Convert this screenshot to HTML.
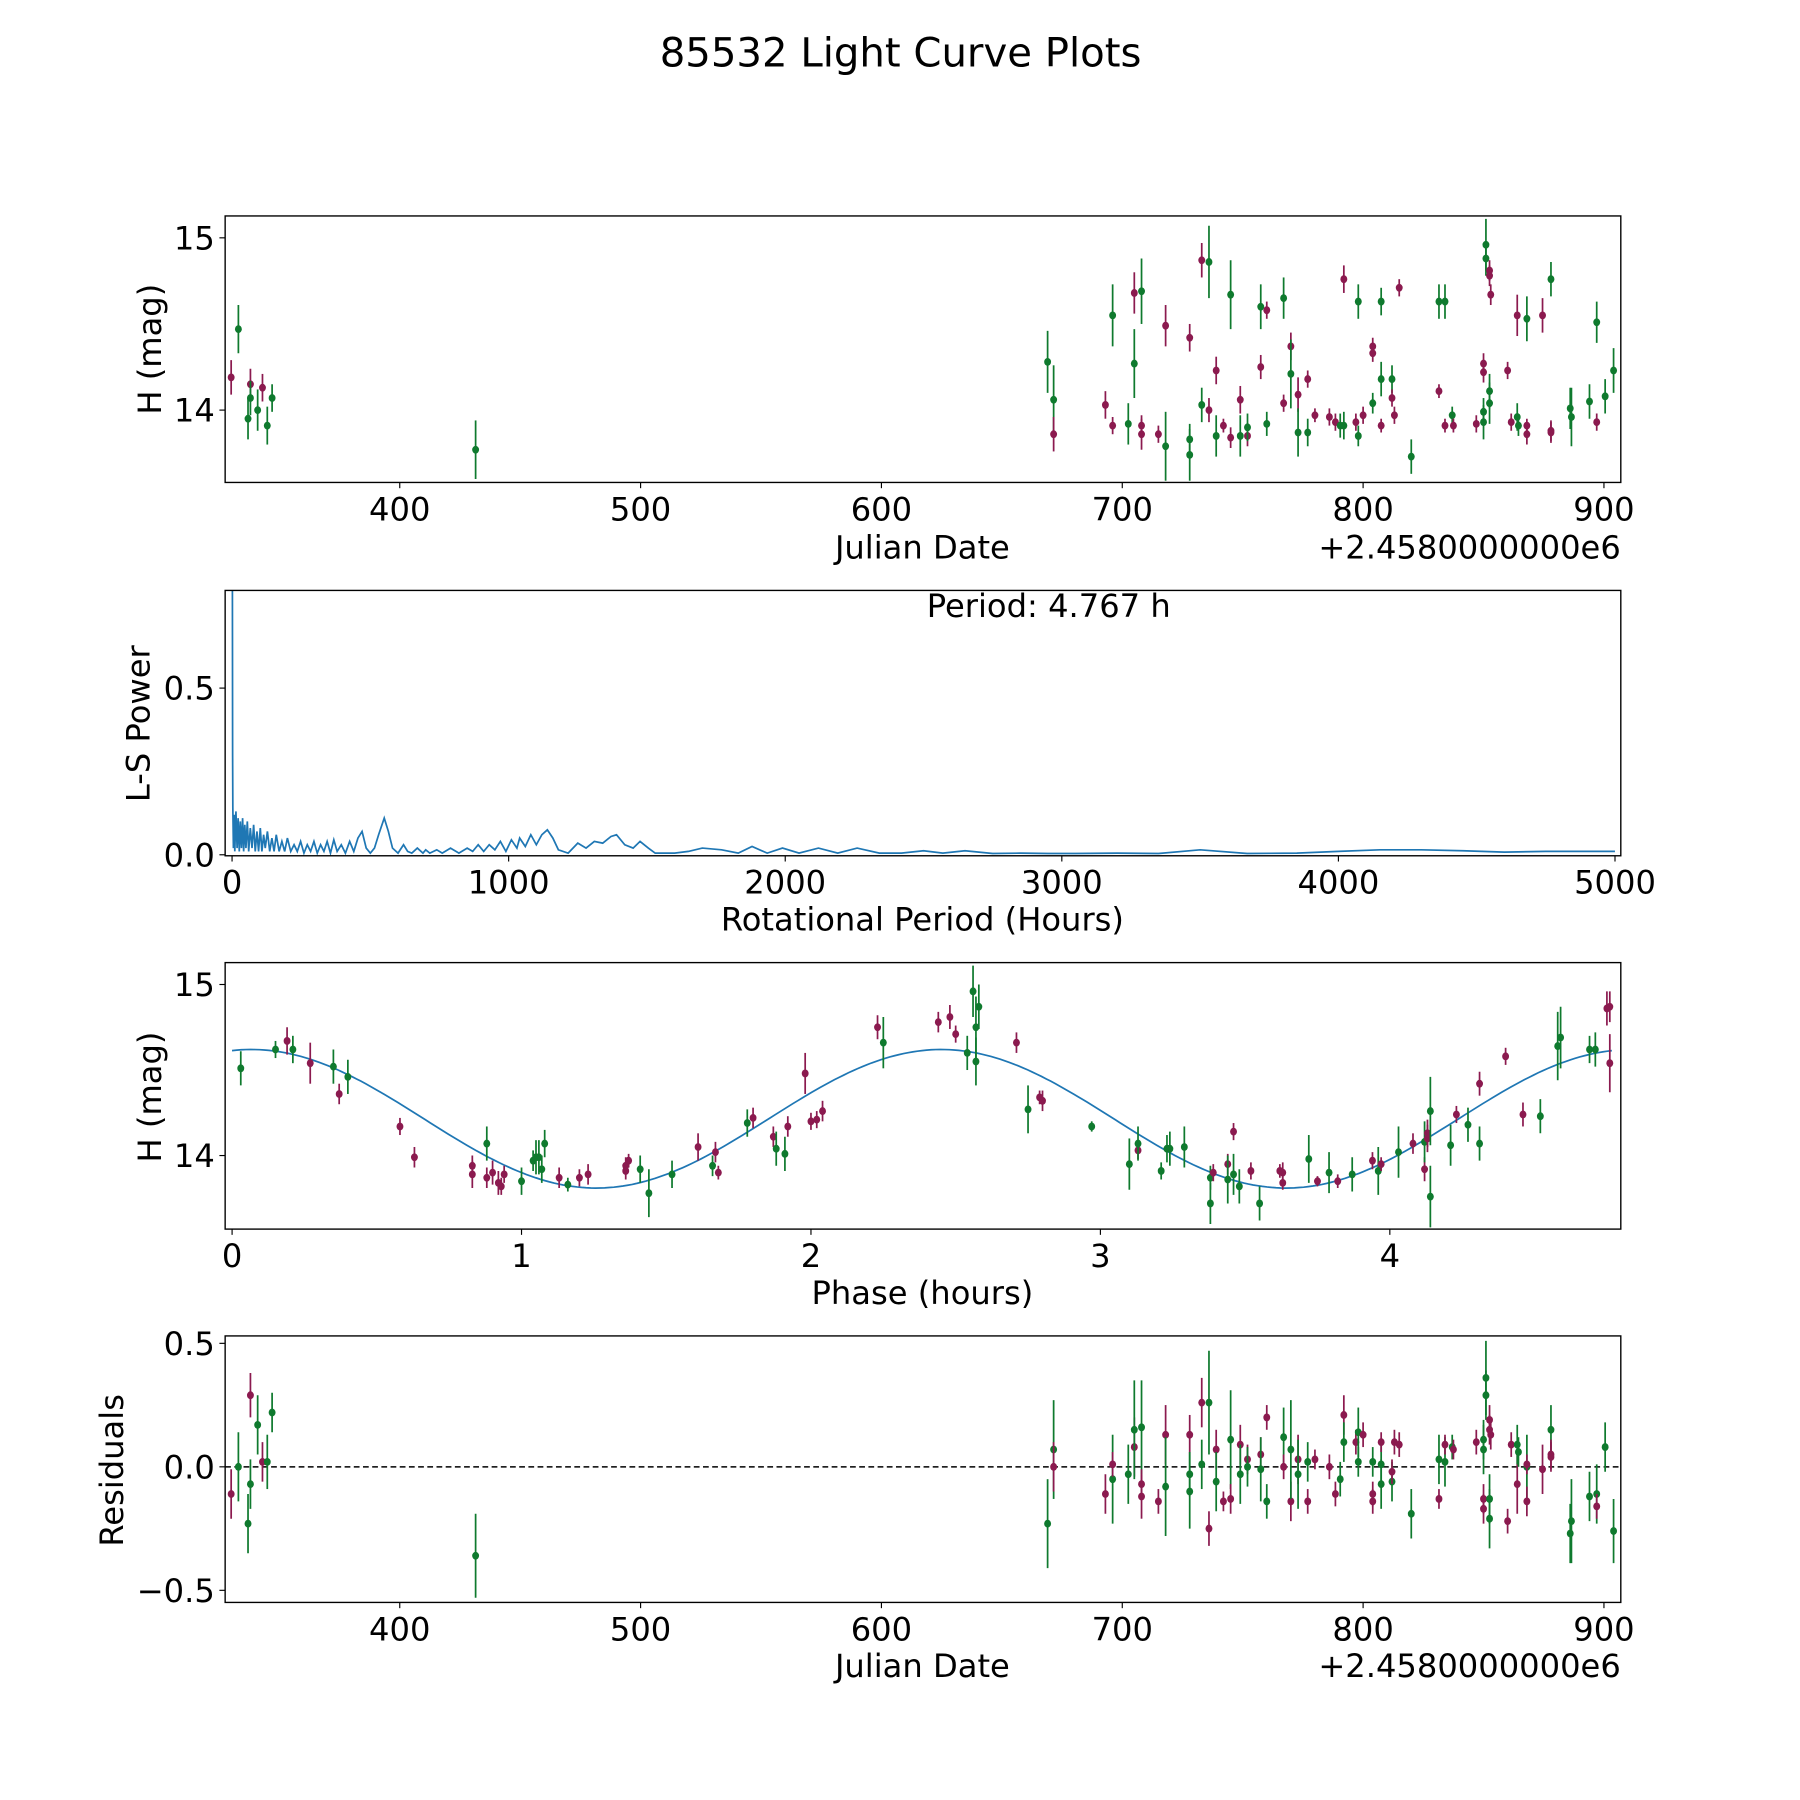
<!DOCTYPE html>
<html><head><meta charset="utf-8"><style>
html,body{margin:0;padding:0;background:#fff}
svg{display:block}
text{font-family:"DejaVu Sans","Liberation Sans",sans-serif;fill:#000}
</style></head><body>
<svg id="fig" width="1800" height="1800" viewBox="0 0 1567 1567" xmlns="http://www.w3.org/2000/svg">
<rect width="1567" height="1567" fill="#fff"/>
<text x="784" y="58" font-size="35" text-anchor="middle">85532 Light Curve Plots</text>
</svg>
<script>
// ---------- data ----------
const M='m', G='g';
const lcDate=[333,330,338,338,337,341,343,345,347,431.5,669,671.5,671.5,693,696,696,702.5,705,705,708,708,708,715,718,718,728,728,728,733,733,736,736,739,739,742,745,745,749,749,752,752,757.5,757.5,760,760,767,767,770,770,773,773,777,777,780,786,788.5,790.5,792,792,797,798,798,800,804,804,804,807.5,807.5,807.5,812,812,813,815,820,831.5,831.5,834,834,837,837.5,847,850,850,850,850,851,851,852.5,852.5,853,852.5,852.5,860,861.5,864,864,864.5,868,868,868,874.5,878,878,878,886,886.5,894,897,897,900.5,904];
const lcMag=[14.47,14.19,14.15,14.07,13.95,14.0,14.13,13.91,14.07,13.77,14.28,14.06,13.86,14.03,14.55,13.91,13.92,14.68,14.27,14.69,13.91,13.86,13.86,14.49,13.79,14.42,13.83,13.74,14.87,14.03,14.86,14.0,14.23,13.85,13.91,14.67,13.84,14.06,13.85,13.85,13.9,14.25,14.6,14.58,13.92,14.65,14.04,14.37,14.21,14.09,13.87,14.18,13.87,13.97,13.96,13.93,13.91,14.76,13.91,13.93,14.63,13.85,13.97,14.04,14.37,14.33,14.63,14.18,13.91,14.18,14.07,13.97,14.71,13.73,14.11,14.63,14.63,13.91,13.97,13.91,13.92,14.27,14.22,13.99,13.93,14.96,14.88,14.81,14.78,14.67,14.11,14.04,14.23,13.93,14.55,13.96,13.91,14.53,13.91,13.86,14.55,14.76,13.88,13.87,14.01,13.96,14.05,14.51,13.93,14.08,14.23];
const lcErr=[0.14,0.1,0.09,0.1,0.12,0.12,0.08,0.11,0.08,0.17,0.18,0.2,0.1,0.08,0.18,0.05,0.12,0.12,0.2,0.19,0.06,0.09,0.05,0.12,0.2,0.08,0.09,0.15,0.1,0.1,0.21,0.07,0.08,0.12,0.04,0.2,0.06,0.08,0.12,0.06,0.08,0.07,0.13,0.05,0.07,0.12,0.05,0.08,0.2,0.1,0.14,0.05,0.08,0.04,0.05,0.05,0.07,0.08,0.08,0.05,0.1,0.06,0.05,0.06,0.05,0.05,0.08,0.1,0.04,0.08,0.05,0.05,0.05,0.1,0.04,0.1,0.1,0.04,0.05,0.04,0.05,0.06,0.06,0.08,0.1,0.15,0.1,0.06,0.06,0.06,0.1,0.12,0.05,0.05,0.12,0.08,0.06,0.13,0.04,0.06,0.1,0.1,0.06,0.06,0.12,0.17,0.1,0.12,0.05,0.1,0.13];
const lcBand=[G,M,M,G,G,G,M,G,G,G,G,G,M,M,G,M,G,M,G,G,M,M,M,M,G,M,G,G,M,G,G,M,M,G,M,G,M,M,G,M,G,M,G,M,G,G,M,M,G,M,G,M,G,M,M,M,G,M,G,M,G,G,M,G,M,M,G,G,M,G,M,M,M,G,M,G,G,M,G,M,M,M,M,G,G,G,G,M,M,M,G,G,M,M,M,G,G,G,M,M,M,G,M,M,G,G,G,G,M,G,G];
const resVal=[0.0,-0.11,0.29,-0.07,-0.23,0.17,0.02,0.02,0.22,-0.36,-0.23,0.07,0.0,-0.11,-0.05,0.01,-0.03,0.08,0.15,0.16,-0.07,-0.12,-0.14,0.13,-0.08,0.13,-0.03,-0.10,0.26,0.01,0.26,-0.25,0.07,-0.06,-0.14,0.11,-0.13,0.09,-0.03,0.03,0.0,0.05,-0.01,0.2,-0.14,0.12,0.0,-0.14,0.07,0.03,-0.03,-0.14,0.02,0.03,0.0,-0.11,-0.05,0.21,0.1,0.1,0.14,0.02,0.13,0.02,-0.11,-0.14,0.01,-0.07,0.1,-0.06,-0.02,0.1,0.09,-0.19,-0.13,0.03,0.02,0.09,0.08,0.07,0.1,-0.13,-0.17,0.11,0.07,0.36,0.29,0.19,0.15,0.13,-0.13,-0.21,-0.22,0.09,-0.07,0.09,0.06,0.0,0.01,-0.14,-0.01,0.15,0.05,0.04,-0.27,-0.22,-0.12,-0.11,-0.16,0.08,-0.26];
const phPhase=[0.03,0.15,0.19,0.21,0.27,0.35,0.37,0.40,0.58,0.63,0.83,0.83,0.88,0.88,0.9,0.92,0.93,0.94,1.0,1.04,1.05,1.06,1.07,1.08,1.13,1.16,1.2,1.23,1.36,1.36,1.37,1.41,1.44,1.52,1.61,1.66,1.67,1.68,1.78,1.80,1.87,1.88,1.91,1.92,1.98,2.0,2.02,2.04,2.23,2.25,2.44,2.48,2.5,2.54,2.56,2.57,2.57,2.58,2.71,2.75,2.79,2.80,2.97,3.1,3.13,3.13,3.21,3.23,3.24,3.29,3.38,3.39,3.38,3.44,3.44,3.46,3.46,3.48,3.52,3.55,3.62,3.63,3.63,3.72,3.75,3.79,3.82,3.87,3.94,3.96,3.97,4.03,4.08,4.12,4.12,4.13,4.13,4.14,4.14,4.21,4.23,4.27,4.31,4.31,4.40,4.46,4.52,4.58,4.59,4.69,4.71,4.75,4.76,4.76];
const phMag=[14.51,14.62,14.67,14.62,14.54,14.52,14.36,14.46,14.17,13.99,13.94,13.89,14.07,13.87,13.9,13.84,13.82,13.89,13.85,13.97,13.99,13.99,13.92,14.07,13.87,13.83,13.87,13.89,13.91,13.94,13.97,13.92,13.78,13.89,14.05,13.94,14.02,13.9,14.19,14.22,14.11,14.04,14.01,14.17,14.48,14.2,14.21,14.26,14.75,14.66,14.78,14.81,14.71,14.6,14.96,14.55,14.75,14.87,14.66,14.27,14.34,14.32,14.17,13.95,14.03,14.07,13.91,14.04,14.04,14.05,13.87,13.9,13.72,13.95,13.86,14.14,13.89,13.82,13.91,13.72,13.91,13.9,13.84,13.98,13.85,13.9,13.85,13.89,13.97,13.91,13.95,14.02,14.07,13.92,14.08,14.10,14.13,13.76,14.26,14.06,14.24,14.18,14.42,14.07,14.58,14.24,14.23,14.64,14.69,14.62,14.62,14.86,14.87,14.54];
const phErr=[0.1,0.05,0.08,0.08,0.12,0.1,0.06,0.1,0.05,0.06,0.06,0.08,0.1,0.06,0.07,0.07,0.05,0.05,0.08,0.06,0.1,0.1,0.08,0.08,0.06,0.04,0.05,0.06,0.05,0.05,0.04,0.08,0.14,0.08,0.08,0.06,0.06,0.04,0.08,0.06,0.06,0.1,0.1,0.06,0.12,0.05,0.05,0.06,0.07,0.15,0.06,0.07,0.05,0.1,0.15,0.14,0.18,0.13,0.06,0.14,0.04,0.06,0.03,0.15,0.05,0.1,0.05,0.08,0.1,0.12,0.07,0.05,0.12,0.06,0.14,0.05,0.12,0.1,0.05,0.1,0.04,0.06,0.04,0.14,0.03,0.12,0.04,0.1,0.05,0.14,0.04,0.15,0.06,0.07,0.12,0.08,0.08,0.18,0.2,0.12,0.05,0.1,0.07,0.1,0.05,0.07,0.1,0.2,0.18,0.08,0.1,0.1,0.09,0.17];
const phBand=[G,G,M,G,M,G,M,G,M,M,M,M,G,M,M,M,M,M,G,G,G,G,G,G,M,G,M,M,M,M,M,G,G,G,M,G,M,M,G,M,M,G,G,M,M,M,M,M,M,G,M,M,M,G,G,G,G,G,M,G,M,M,G,G,M,G,G,G,G,G,G,M,G,M,G,M,G,G,M,G,M,M,M,G,M,G,M,G,M,G,M,G,M,M,G,M,M,G,G,G,M,G,M,G,M,M,G,G,G,G,G,M,M,M];
const fitMean=14.215, fitAmp=0.405, fitPeak=2.45, fitHalfPeriod=2.3835, foldPeriod=4.767;
const lsPeriod=[1,2,3,5,8,10,14,18,22,26,30,34,38,42,46,50,55,60,66,72,78,84,90,96,102,108,114,120,128,136,144,152,160,170,180,190,200,212,224,236,248,260,272,284,296,308,320,332,344,356,368,380,395,410,425,440,455,470,485,500,515,530,550,565,580,600,620,635,650,670,690,700,715,740,760,790,820,850,870,890,910,930,950,970,990,1010,1030,1040,1060,1080,1100,1120,1140,1160,1180,1215,1250,1280,1310,1340,1370,1390,1420,1450,1475,1505,1530,1560,1600,1650,1700,1770,1830,1880,1935,1990,2050,2120,2190,2260,2340,2420,2500,2570,2650,2750,2850,2950,3050,3200,3350,3500,3670,3850,4000,4150,4300,4450,4600,4750,4900,5000];
const lsPower=[0.85,0.3,0.14,0.02,0.12,0.01,0.13,0.02,0.11,0.01,0.1,0.02,0.11,0.01,0.09,0.02,0.1,0.01,0.08,0.02,0.09,0.01,0.07,0.01,0.08,0.01,0.06,0.02,0.07,0.01,0.05,0.01,0.06,0.01,0.04,0.01,0.05,0.01,0.03,0.01,0.04,0.005,0.03,0.01,0.04,0.005,0.03,0.01,0.04,0.005,0.045,0.01,0.03,0.005,0.04,0.01,0.05,0.07,0.02,0.005,0.02,0.06,0.11,0.07,0.02,0.005,0.03,0.01,0.005,0.02,0.005,0.015,0.005,0.015,0.005,0.02,0.005,0.02,0.01,0.03,0.01,0.03,0.015,0.04,0.01,0.045,0.02,0.05,0.025,0.06,0.03,0.06,0.075,0.05,0.015,0.005,0.035,0.02,0.04,0.035,0.055,0.06,0.03,0.02,0.04,0.02,0.005,0.005,0.005,0.01,0.02,0.015,0.005,0.025,0.005,0.02,0.005,0.02,0.005,0.02,0.005,0.005,0.012,0.005,0.012,0.004,0.005,0.004,0.004,0.005,0.004,0.015,0.004,0.005,0.01,0.015,0.015,0.012,0.008,0.01,0.01,0.01];
const dateTicks=[400,500,600,700,800,900];
const magTicks=[14,15];
const lsXTicks=[0,1000,2000,3000,4000,5000];
const lsYTicks=[0.0,0.5];
const lsYLabels=['0.0','0.5'];
const phTicks=[0,1,2,3,4];
const resTicks=[-0.5,0.0,0.5];
const resLabels=['\u22120.5','0.0','0.5'];

// ---------- drawing ----------
const NS='http://www.w3.org/2000/svg';
const svg=document.getElementById('fig');
const COL={m:'#8b1a4f',g:'#0f7a2e'};
const FS=28;
function el(tag,attrs,parent){const e=document.createElementNS(NS,tag);for(const k in attrs)e.setAttribute(k,attrs[k]);(parent||svg).appendChild(e);return e;}
function lin(d0,d1,r0,r1){return v=>r0+(v-d0)*(r1-r0)/(d1-d0);}
function panel(name,L,T,R,B,xd,yd){
  const g=el('g',{});
  
  
  const cp=el('clipPath',{id:'clip-'+name},g);el('rect',{x:L,y:T,width:R-L,height:B-T},cp);
  const data=el('g',{'clip-path':'url(#clip-'+name+')'},g);
  return {g,data,x:lin(xd[0],xd[1],L,R),y:lin(yd[0],yd[1],B,T),L,T,R,B};
}
function frame(p){const r=el('rect',{x:p.L,y:p.T,width:p.R-p.L,height:p.B-p.T,fill:'none',stroke:'#000','stroke-width':1.2},p.g);
  }
function xticks(p,vals,labels,name){vals.forEach((v,i)=>{const X=p.x(v);
  el('line',{x1:X,x2:X,y1:p.B,y2:p.B+5,stroke:'#000','stroke-width':1},p.g);
  const t=el('text',{x:X,y:p.B+33,'font-size':FS,'text-anchor':'middle'},p.g);t.textContent=labels?labels[i]:String(v);
  });}
function yticks(p,vals,labels,name){vals.forEach((v,i)=>{const Y=p.y(v);
  el('line',{x1:p.L-5,x2:p.L,y1:Y,y2:Y,stroke:'#000','stroke-width':1},p.g);
  const t=el('text',{x:p.L-9,y:Y+10,'font-size':FS,'text-anchor':'end'},p.g);t.textContent=labels?labels[i]:String(v);
  });}
function label(txt,x,y,rot,name,anchor){const t=el('text',{x:x,y:y,'font-size':FS,'text-anchor':anchor||'middle'});
  if(rot)t.setAttribute('transform','rotate(-90 '+x+' '+y+')');t.textContent=txt;
  }
function points(p,xs,ys,es,bands,name){xs.forEach((xv,i)=>{const X=p.x(xv),c=COL[bands[i]];
  el('line',{x1:X,x2:X,y1:p.y(ys[i]-es[i]),y2:p.y(ys[i]+es[i]),stroke:c,'stroke-width':1.5},p.data);
  const d=el('ellipse',{cx:X,cy:p.y(ys[i]),rx:3,ry:3.4,fill:c},p.data);
  });}

const p1=panel('light-curve-panel',196,188,1411,420,[327.5,907],[13.58,15.127]);
points(p1,lcDate,lcMag,lcErr,lcBand,'light-curve-point');
frame(p1);xticks(p1,dateTicks,null,'date-x');yticks(p1,magTicks,null,'mag-y');
label('H (mag)',140,304,true,'light-curve-y-title');
label('Julian Date',803,486,false,'light-curve-x-title');
label('+2.4580000000e6',1411,486,false,'light-curve-x-offset','end');

const p2=panel('periodogram-panel',196,514,1411,745,[-25,5021],[-0.003,0.793]);
el('path',{d:lsPeriod.map((v,i)=>(i?'L':'M')+p2.x(v).toFixed(1)+' '+p2.y(lsPower[i]).toFixed(1)).join(' '),fill:'none',stroke:'#1f77b4','stroke-width':1.5,},p2.data);
frame(p2);xticks(p2,lsXTicks,null,'period-x');yticks(p2,lsYTicks,lsYLabels,'power-y');
label('L-S Power',130,630,true,'periodogram-y-title');
label('Rotational Period (Hours)',803,810,false,'periodogram-x-title');
label('Period: 4.767 h',913,537,false,'period-annotation');

const p3=panel('phased-panel',196,838,1411,1070,[-0.024,4.798],[13.57,15.128]);
let fd='';for(let i=0;i<=300;i++){const ph=foldPeriod*i/300;const m=fitMean+fitAmp*Math.cos(2*Math.PI*(ph-fitPeak)/fitHalfPeriod);fd+=(i?'L':'M')+p3.x(ph).toFixed(1)+' '+p3.y(m).toFixed(1)+' ';}
el('path',{d:fd,fill:'none',stroke:'#1f77b4','stroke-width':1.5,},p3.data);
points(p3,phPhase,phMag,phErr,phBand,'phased-point');
frame(p3);xticks(p3,phTicks,null,'phase-x');yticks(p3,magTicks,null,'phase-mag-y');
label('H (mag)',140,955,true,'phased-y-title');
label('Phase (hours)',803,1135,false,'phased-x-title');

const p4=panel('residuals-panel',196,1163,1411,1395,[327.5,907],[-0.549,0.53]);
el('line',{x1:p4.L,x2:p4.R,y1:p4.y(0),y2:p4.y(0),stroke:'#000','stroke-width':1.3,'stroke-dasharray':'5,3',},p4.data);
points(p4,lcDate,resVal,lcErr,lcBand,'residual-point');
frame(p4);xticks(p4,dateTicks,null,'res-date-x');yticks(p4,resTicks,resLabels,'res-y');
label('Residuals',107,1280,true,'residuals-y-title');
label('Julian Date',803,1460,false,'residuals-x-title');
label('+2.4580000000e6',1411,1460,false,'residuals-x-offset','end');
</script>
</body></html>
